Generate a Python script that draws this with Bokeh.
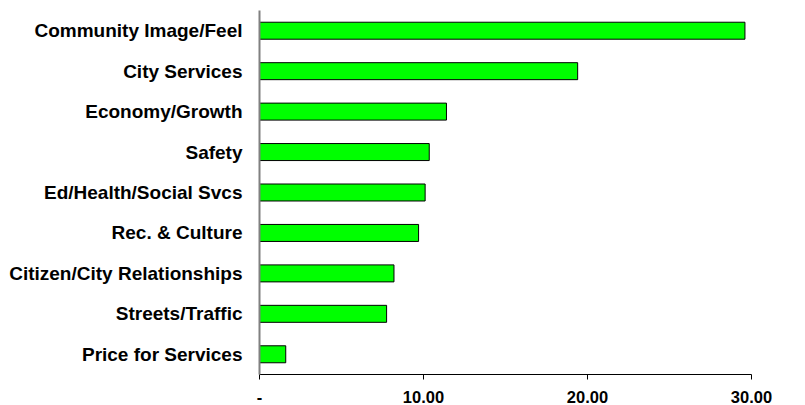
from bokeh.plotting import figure
from bokeh.models import Range1d, FixedTicker
from bokeh.embed import file_html
from bokeh.resources import INLINE

categories = ["Community Image/Feel", "City Services", "Economy/Growth", "Safety",
              "Ed/Health/Social Svcs", "Rec. & Culture", "Citizen/City Relationships",
              "Streets/Traffic", "Price for Services"]
values = [29.6, 19.4, 11.4, 10.35, 10.1, 9.7, 8.2, 7.75, 1.6]
tick_values = [0, 10, 20, 30]
tick_labels = ["-", "10.00", "20.00", "30.00"]

p = figure(width=805, height=405, y_range=list(reversed(categories)),
           x_range=Range1d(0, 30), output_backend="svg", toolbar_location=None,
           min_border_left=259, min_border_right=54, min_border_top=10, min_border_bottom=30)

p.hbar(y=categories, right=values, left=0, height=0.42,
       fill_color="#00FF00", line_color="black", line_width=1)

p.xgrid.visible = False
p.ygrid.visible = False
p.outline_line_color = None

xa = p.xaxis[0]
xa.ticker = FixedTicker(ticks=tick_values)
xa.major_label_overrides = {v: l for v, l in zip(tick_values, tick_labels)}
xa.minor_tick_line_color = None
xa.major_tick_in = 0
xa.major_tick_out = 5
xa.axis_line_color = "black"
xa.major_tick_line_color = "black"
xa.major_label_text_font = "Liberation Sans"
xa.major_label_text_font_style = "bold"
xa.major_label_text_font_size = "16.5px"
xa.major_label_text_color = "black"
xa.major_label_standoff = 11

ya = p.yaxis[0]
ya.major_tick_line_color = None
ya.minor_tick_line_color = None
ya.axis_line_color = "#808080"
ya.axis_line_width = 2
ya.major_label_text_font = "Liberation Sans"
ya.major_label_text_font_style = "bold"
ya.major_label_text_font_size = "19px"
ya.major_label_text_color = "black"
ya.major_label_standoff = 11

open("out.html", "w").write(file_html(p, INLINE))
